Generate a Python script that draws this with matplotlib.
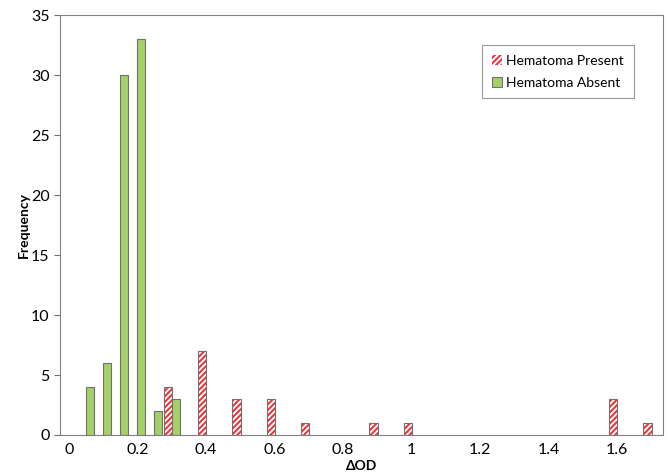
import matplotlib.pyplot as plt
from matplotlib.patches import Patch

plt.rcParams['font.family'] = ['Lato', 'DejaVu Sans']
plt.rcParams['hatch.linewidth'] = 1.5

# bin centres and counts
absent_x = [0.05, 0.10, 0.15, 0.20, 0.25, 0.30]
absent_n = [4, 6, 30, 33, 2, 3]
present_x = [0.3, 0.4, 0.5, 0.6, 0.7, 0.9, 1.0, 1.6, 1.7]
present_n = [4, 7, 3, 3, 1, 1, 1, 3, 1]

green = '#a5cf67'
red = '#e8383d'
edge = '#707070'
w = 0.024

fig = plt.figure(figsize=(6.69, 4.74), dpi=100)
ax = fig.add_axes([0.0897, 0.0823, 0.9013, 0.8857])

ax.bar([x + 0.011 for x in absent_x], absent_n, width=w, color=green,
       edgecolor=edge, linewidth=0.8, zorder=2)
# hatched bars: red stripes, then grey outline on top
px = [x - 0.011 for x in present_x]
ax.bar(px, present_n, width=w, color='white', edgecolor=red,
       hatch='//////', linewidth=0, zorder=2)
ax.bar(px, present_n, width=w, fill=False, edgecolor=edge,
       linewidth=0.8, zorder=3)

ax.set_xlim(-0.026, 1.734)
ax.set_ylim(0, 35)
ax.set_xticks([0, 0.2, 0.4, 0.6, 0.8, 1.0, 1.2, 1.4, 1.6])
ax.set_xticklabels(['0', '0.2', '0.4', '0.6', '0.8', '1', '1.2', '1.4', '1.6'])
ax.set_yticks(range(0, 36, 5))
ax.tick_params(axis='x', length=0, labelsize=11.5, pad=6)
ax.tick_params(axis='y', length=4, labelsize=11.5, color=edge)
for s in ax.spines.values():
    s.set_color('#808080')

ax.set_xlabel('ΔOD', fontweight='bold', fontsize=10, labelpad=2)
ax.set_ylabel('Frequency', fontweight='bold', fontsize=10, labelpad=1)

handles = [Patch(facecolor='white', edgecolor=red, hatch='//////', linewidth=0),
           Patch(facecolor=green, edgecolor=edge, linewidth=0.8)]
leg = ax.legend(handles, ['Hematoma Present', 'Hematoma Absent'],
                loc='upper right', bbox_to_anchor=(0.963, 0.945),
                fontsize=10, fancybox=False, edgecolor='#808080',
                handlelength=0.75, handleheight=0.75, handletextpad=0.3,
                borderpad=0.7, labelspacing=0.7)
leg.get_frame().set_linewidth(0.8)

fig.savefig('out.png', dpi=100)
